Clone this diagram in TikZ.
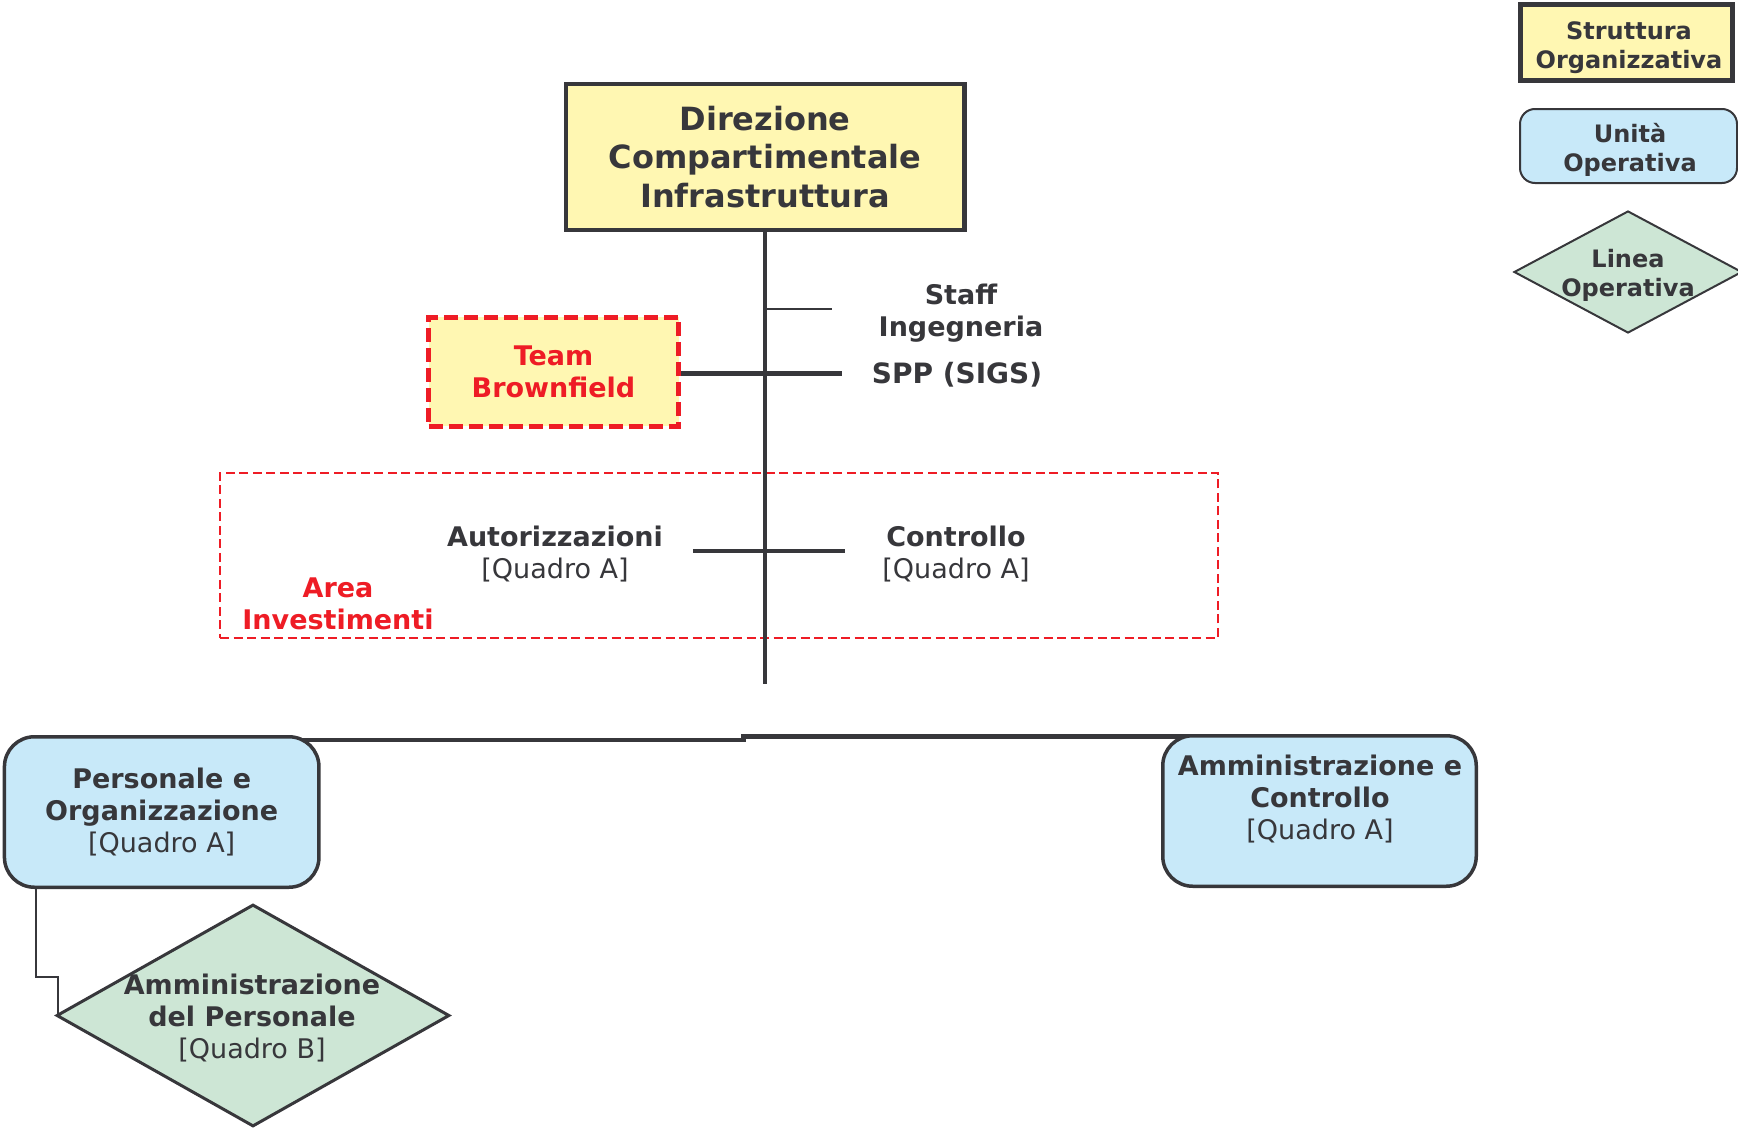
\documentclass[tikz,border=0pt]{standalone}
\usepackage{fontspec}
\setmainfont{DejaVu Sans}
\usetikzlibrary{shapes.geometric,backgrounds}
\definecolor{ink}{HTML}{37373B}
\definecolor{yel}{HTML}{FFF7B2}
\definecolor{blu}{HTML}{C8E9F9}
\definecolor{grn}{HTML}{CDE6D5}
\definecolor{rd}{HTML}{EE1C25}
\begin{document}
\begin{tikzpicture}[x=1pt,y=-1pt,
  lbl/.style={text=ink, align=center, inner sep=0pt, font=\bfseries\fontsize{27}{32}\selectfont},
  orgbox/.style={draw=ink, line width=4.5pt, fill=yel, inner sep=0pt, align=center, text=ink, font=\bfseries\fontsize{32}{38.5}\selectfont},
  teambox/.style={draw=rd, line width=5pt, dash pattern=on 14pt off 6pt, fill=yel, inner sep=0pt, align=center, text=rd, font=\bfseries\fontsize{27}{32}\selectfont},
  areabox/.style={draw=rd, line width=2.5pt, dash pattern=on 9pt off 4.5pt, inner sep=0pt},
  unitbox/.style={draw=ink, line width=3.5pt, fill=blu, rounded corners=30pt, inner sep=0pt, align=center, text=ink, font=\bfseries\fontsize{27}{32}\selectfont},
  linebox/.style={diamond, draw=ink, line width=3pt, fill=grn, inner sep=0pt},
  trunk/.style={draw=ink, line width=4.5pt},
  thinln/.style={draw=ink, line width=2pt},
  leg/.style={text=ink, align=center, inner sep=0pt, font=\bfseries\fontsize{24}{29}\selectfont}
]
\useasboundingbox (0,0) rectangle (1738,1132);

% main structure
\node[orgbox, minimum width=398.5pt, minimum height=145.5pt] (dci) at (765,157) {Direzione\\Compartimentale\\Infrastruttura};
\node[teambox, minimum width=250pt, minimum height=109pt] (tb) at (553.5,371.5) {Team\\Brownfield};
\node[lbl] (staff) at (961,313) {Staff\\Ingegneria};
\node[lbl, font=\bfseries\fontsize{28}{32}\selectfont] (spp) at (957,375) {SPP (SIGS)};

\node[areabox, minimum width=998pt, minimum height=165pt] (area) at (719,555.3) {};
\node[lbl] (aut) at (555,554.5) {Autorizzazioni\\{\mdseries [Quadro A]}};
\node[lbl] (ctr) at (956,554.5) {Controllo\\{\mdseries [Quadro A]}};
\node[lbl, text=rd] (ai) at (338,603.5) {Area\\Investimenti};

\node[unitbox, minimum width=314.5pt, minimum height=150.5pt] (po) at (161.7,812) {Personale e\\Organizzazione\\{\mdseries [Quadro A]}};
\node[unitbox, minimum width=313.5pt, minimum height=150.5pt] (ac) at (1319.5,811) {};
\node[lbl] (actxt) at (1320,799) {Amministrazione e\\Controllo\\{\mdseries [Quadro A]}};

\node[linebox, minimum width=393pt, minimum height=222pt] (adp) at (253,1015.5) {};
\node[lbl] (adptxt) at (252,1018.5) {Amministrazione\\del Personale\\{\mdseries [Quadro B]}};

% legend
\node[orgbox, line width=5pt, minimum width=212pt, minimum height=76pt] (lso) at (1626.5,42.5) {};
\node[leg] (lsotxt) at (1629,47.5) {Struttura\\Organizzativa};
\node[unitbox, line width=2pt, rounded corners=15pt, minimum width=217pt, minimum height=74pt] (luo) at (1628.5,146) {};
\node[leg] (luotxt) at (1630,150) {Unità\\Operativa};
\node[linebox, line width=2pt, minimum width=228pt, minimum height=122pt] (llo) at (1628,272) {};
\node[leg] (llotxt) at (1628,275.5) {Linea\\Operativa};

% connector points
\coordinate (trunkend) at (765,684);
\coordinate (staffend) at (832,309.3);
\coordinate (sppend) at (841.5,373.3);
\coordinate (autl) at (692.8,551);
\coordinate (autr) at (845.2,551);
\coordinate (barstep) at (743.6,738);
\coordinate (barL) at (161.7,740);
\coordinate (barR) at (1319.5,736.5);
\coordinate (k1) at (36,977);
\coordinate (k2) at (58,977);

\draw[trunk] (dci.south) -- (trunkend);
\draw[thinln] (dci.south |- staffend) -- (staffend);
\draw[trunk] (tb.east |- sppend) -- (sppend);
\draw[trunk] (autl) -- (autr);

\begin{scope}[on background layer]
\draw[trunk] (barL) -- (barL -| barstep) -- (barR -| barstep) -- (barR);
\draw[thinln] (po.south -| k1) -- (k1) -- (k2) -- (k2 |- adp.west);
\end{scope}
\end{tikzpicture}
\end{document}
